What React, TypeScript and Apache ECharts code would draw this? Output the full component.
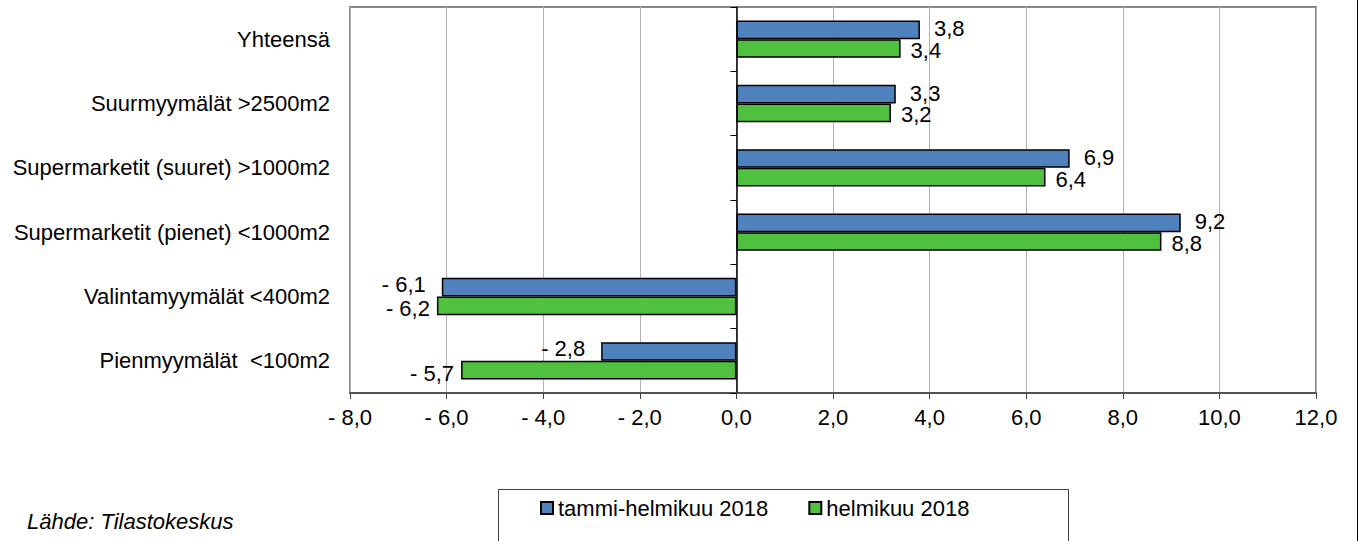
import React, { useEffect, useRef } from "react";
import * as echarts from "echarts";

const categories = [
  "Yhteensä",
  "Suurmyymälät >2500m2",
  "Supermarketit (suuret) >1000m2",
  "Supermarketit (pienet) <1000m2",
  "Valintamyymälät <400m2",
  "Pienmyymälät  <100m2",
];
const seriesNames = ["tammi-helmikuu 2018", "helmikuu 2018"];
const tammiHelmi = [3.8, 3.3, 6.9, 9.2, -6.1, -2.8];
const helmi = [3.4, 3.2, 6.4, 8.8, -6.2, -5.7];
const xMin = -8;
const xMax = 12;
const xInterval = 2;
const sourceText = "Lähde: Tilastokeskus";

const FONT = "'Liberation Sans', Arial, sans-serif";

function fmt(v: number): string {
  const s = Math.abs(v).toFixed(1).replace(".", ",");
  return v < 0 ? "- " + s : s;
}

function buildData(
  values: number[],
  posDist: number,
  negDist: number,
  posOffY: number,
  negOffY: number
) {
  return values.map((v) => ({
    value: v,
    label: {
      position: v < 0 ? "left" : "right",
      distance: v < 0 ? negDist : posDist,
      offset: [0, v < 0 ? negOffY : posOffY],
    },
  }));
}

export default function App() {
  const ref = useRef<HTMLDivElement>(null);
  useEffect(() => {
    if (!ref.current) return;
    const chart = echarts.init(ref.current, undefined, { renderer: "svg" });
    const labelBase = {
      show: true,
      formatter: (p: any) => fmt(p.value),
      fontFamily: FONT,
      fontSize: 22,
      lineHeight: 19,
      color: "#000",
    };
    chart.setOption({
      animation: false,
      backgroundColor: "#fff",
      textStyle: { fontFamily: FONT },
      grid: {
        left: 350,
        right: 46,
        top: 7,
        bottom: 148,
        show: true,
        borderColor: "#888",
        borderWidth: 2,
        backgroundColor: "transparent",
      },
      legend: {
        left: 540,
        top: 497,
        padding: 0,
        itemGap: 40,
        itemWidth: 12,
        itemHeight: 12,
        icon: "rect",
        textStyle: { fontFamily: FONT, fontSize: 22, color: "#000" },
        data: seriesNames,
      },
      xAxis: {
        type: "value",
        min: xMin,
        max: xMax,
        interval: xInterval,
        axisLine: { show: true, onZero: false, lineStyle: { color: "#404040", width: 1.5 } },
        axisTick: { show: true, length: 6, lineStyle: { color: "#404040" } },
        axisLabel: {
          formatter: (v: number) => fmt(v),
          fontFamily: FONT,
          fontSize: 22,
          color: "#000",
          margin: 13,
        },
        splitLine: { show: true, lineStyle: { color: "#b3b3b3", width: 1 } },
      },
      yAxis: [
        {
          type: "category",
          data: categories,
          inverse: true,
          position: "left",
          axisLine: { show: false, onZero: false },
          axisTick: { show: false },
          axisLabel: { fontFamily: FONT, fontSize: 22, color: "#000", margin: 20 },
          splitLine: { show: false },
        },
        {
          type: "category",
          data: categories,
          inverse: true,
          position: "left",
          axisLine: { show: true, onZero: true, lineStyle: { color: "#000", width: 1.5 } },
          axisTick: { show: true, length: 6, lineStyle: { color: "#000" } },
          axisLabel: { show: false },
          splitLine: { show: false },
        },
      ],
      series: [
        {
          name: seriesNames[0],
          type: "bar",
          yAxisIndex: 0,
          barGap: "0%",
          barCategoryGap: "42%",
          itemStyle: { color: "#4f81bd", borderColor: "#000", borderWidth: 1.5 },
          label: labelBase,
          data: buildData(tammiHelmi, 14, 16, -1, -3),
          z: 3,
        },
        {
          name: seriesNames[1],
          type: "bar",
          yAxisIndex: 0,
          barGap: "0%",
          barCategoryGap: "42%",
          itemStyle: { color: "#50c040", borderColor: "#000", borderWidth: 1.5 },
          label: labelBase,
          data: buildData(helmi, 10, 7, 2, 3),
          z: 3,
        },
      ],
      graphic: [
        {
          type: "rect",
          shape: { x: 498.5, y: 489.5, width: 570, height: 70 },
          style: { fill: "none", stroke: "#404040", lineWidth: 1 },
          z: 0,
        },
        {
          type: "line",
          shape: { x1: 1357.5, y1: 0, x2: 1357.5, y2: 541 },
          style: { stroke: "#000", lineWidth: 1 },
        },
        {
          type: "text",
          left: 27,
          top: 510,
          style: {
            text: sourceText,
            font: "italic 22px 'Liberation Sans', Arial, sans-serif",
            fill: "#000",
          },
        },
      ],
    });
    return () => chart.dispose();
  }, []);
  return (
    <div
      ref={ref}
      style={{ position: "fixed", left: 0, top: 0, width: 1362, height: 541 }}
    />
  );
}
